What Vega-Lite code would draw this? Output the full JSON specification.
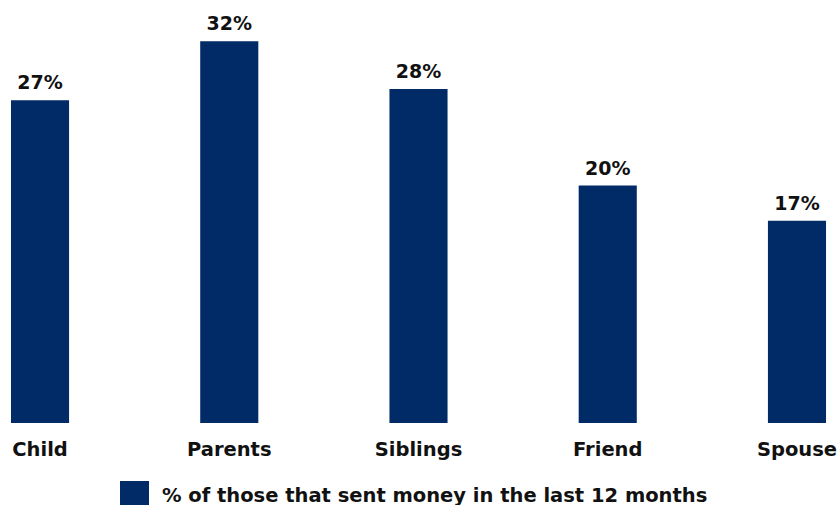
{
  "$schema": "https://vega.github.io/schema/vega-lite/v6.json",
  "width": 837,
  "height": 423,
  "autosize": {"type": "none"},
  "padding": {"top": 0, "left": 0, "right": 0, "bottom": 82},
  "background": "white",
  "config": {"view": {"stroke": null}, "font": "DejaVu Sans"},
  "data": {
    "values": [
      {"relation": "Child", "pct": 0.2705, "series": "% of those that sent money in the last 12 months"},
      {"relation": "Parents", "pct": 0.32, "series": "% of those that sent money in the last 12 months"},
      {"relation": "Siblings", "pct": 0.28, "series": "% of those that sent money in the last 12 months"},
      {"relation": "Friend", "pct": 0.199, "series": "% of those that sent money in the last 12 months"},
      {"relation": "Spouse", "pct": 0.1695, "series": "% of those that sent money in the last 12 months"}
    ]
  },
  "encoding": {
    "x": {
      "field": "relation",
      "type": "nominal",
      "sort": null,
      "scale": {"paddingInner": 0.693, "paddingOuter": 0.058},
      "axis": {
        "title": null,
        "domain": false,
        "ticks": false,
        "labelAngle": 0,
        "labelFont": "DejaVu Sans",
        "labelFontWeight": "bold",
        "labelFontSize": 19.5,
        "labelColor": "#111111",
        "labelPadding": 17
      }
    },
    "y": {
      "field": "pct",
      "type": "quantitative",
      "scale": {"domain": [0, 0.3546], "nice": false},
      "axis": null
    }
  },
  "layer": [
    {
      "mark": {"type": "bar", "color": "#002B66"},
      "encoding": {
        "color": {
          "field": "series",
          "type": "nominal",
          "scale": {"range": ["#002B66"]},
          "legend": {
            "title": null,
            "orient": "none",
            "legendX": 120,
            "legendY": 481,
            "symbolType": "square",
            "symbolSize": 841,
            "symbolStrokeWidth": 0,
            "symbolOpacity": 1,
            "labelFont": "DejaVu Sans",
            "labelFontWeight": "bold",
            "labelFontSize": 19.5,
            "labelColor": "#111111",
            "labelOffset": 13,
            "labelLimit": 800
          }
        }
      }
    },
    {
      "mark": {
        "type": "text",
        "baseline": "alphabetic",
        "dy": -11,
        "font": "DejaVu Sans",
        "fontWeight": "bold",
        "fontSize": 19,
        "color": "#111111"
      },
      "encoding": {
        "text": {"field": "pct", "type": "quantitative", "format": ".0%"}
      }
    }
  ]
}
